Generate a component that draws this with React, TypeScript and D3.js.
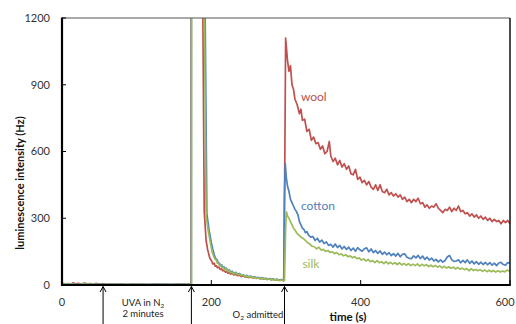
import React from "react";
import * as d3 from "d3";

const W = 516;
const H = 324;

const yTicks = [0, 300, 600, 900, 1200];
const xTicks = [0, 200, 400, 600];

const preWool: [number, number][] = [
  [0, 8], [5, 4], [8, 6], [12, 3], [15, 10], [18, 5], [22, 7], [26, 4], [30, 9], [34, 5], [38, 6], [42, 3], [45, 7], [50, 4], [55, 5], [60, 3], [65, 5], [72, 3], [80, 4], [88, 2], [95, 4], [102, 3], [110, 3], [118, 2], [125, 4], [132, 2], [140, 3], [148, 2], [155, 4], [162, 2], [170, 3], [173, 3],
  [173.1, 3000], [188, 3000], [188.5, 1300], [190.5, 330], [193, 200], [195, 160], [198, 120], [200, 110], [202, 95], [204, 98], [205, 85], [207, 86], [208, 78], [210, 80], [212, 70], [214, 72], [215, 64], [217, 66], [219, 58], [221, 60], [222, 53], [224, 56], [226, 49], [228, 52], [230, 45], [233, 48], [235, 42], [238, 44], [240, 38], [243, 41], [245, 36], [248, 38], [250, 33], [253, 36], [255, 32], [258, 34], [260, 30], [263, 32], [265, 28], [268, 30], [270, 26], [273, 29], [275, 25], [278, 27], [280, 23], [283, 26], [285, 22], [288, 24], [290, 21], [293, 23], [297, 20],
];
const postWool: [number, number][] = [
  [298.5, 600], [299.5, 1110], [302, 1010], [304, 960], [306, 985], [308, 900], [310, 880], [312, 835], [315, 810], [318, 770], [320, 790], [322, 740], [325, 745], [328, 690], [331, 700], [334, 650], [337, 665], [340, 635], [343, 640], [346, 610], [349, 625], [352, 590], [355, 600], [358, 645], [360, 580], [363, 555], [366, 570], [369, 540], [372, 560], [375, 530], [378, 545], [381, 520], [384, 535], [387, 500], [390, 495], [393, 520], [396, 475], [399, 485], [402, 460], [405, 470], [408, 450], [411, 465], [414, 440], [417, 430], [420, 450], [423, 425], [426, 450], [429, 420], [432, 415], [435, 430], [438, 405], [441, 415], [444, 400], [447, 410], [450, 395], [453, 405], [456, 385], [459, 395], [462, 375], [465, 385], [468, 370], [471, 385], [474, 375], [477, 390], [480, 365], [483, 370], [486, 350], [489, 360], [492, 345], [495, 355], [498, 350], [501, 365], [504, 345], [507, 335], [510, 325], [513, 340], [516, 335], [519, 350], [522, 330], [525, 345], [528, 335], [531, 355], [534, 330], [537, 335], [540, 320], [543, 325], [546, 310], [549, 320], [552, 305], [555, 315], [558, 300], [561, 310], [564, 295], [567, 305], [570, 290], [573, 300], [576, 285], [579, 295], [582, 285], [585, 290], [588, 275], [591, 290], [594, 280], [597, 290], [600, 275],
];

const preCotton: [number, number][] = [
  [0, 4], [10, 5], [20, 3], [30, 5], [40, 4], [55, 3], [70, 4], [85, 3], [100, 4], [115, 3], [130, 4], [145, 3], [160, 4], [173.2, 3],
  [173.3, 3000], [191, 3000], [191.5, 1300], [194, 320], [197, 245], [200, 190], [202, 160], [204, 135], [206, 118], [208, 112], [209, 100], [211, 98], [212, 88], [214, 90], [215, 80], [217, 82], [218, 72], [220, 76], [222, 64], [224, 68], [226, 58], [228, 62], [230, 53], [233, 57], [235, 48], [238, 52], [240, 44], [243, 46], [245, 40], [248, 43], [250, 37], [253, 40], [255, 35], [258, 37], [260, 32], [263, 34], [265, 30], [268, 33], [270, 29], [273, 30], [275, 27], [278, 29], [280, 25], [283, 27], [285, 24], [288, 26], [290, 22], [293, 24], [297, 21],
];
const postCotton: [number, number][] = [
  [298, 400], [299, 547], [300.5, 480], [302, 445], [304, 420], [306, 385], [308, 370], [310, 355], [312, 340], [314, 330], [316, 315], [318, 285], [320, 270], [322, 255], [324, 250], [326, 235], [328, 240], [330, 225], [333, 215], [336, 218], [339, 200], [342, 210], [345, 193], [348, 202], [351, 186], [354, 194], [357, 178], [360, 183], [363, 170], [366, 184], [369, 168], [372, 178], [375, 162], [378, 173], [381, 160], [384, 170], [387, 155], [390, 166], [393, 152], [396, 168], [399, 158], [402, 152], [405, 163], [408, 167], [411, 149], [414, 162], [417, 146], [420, 155], [423, 142], [426, 153], [429, 138], [432, 148], [435, 136], [438, 145], [441, 132], [444, 141], [447, 130], [450, 142], [453, 127], [456, 138], [459, 140], [462, 125], [465, 120], [468, 118], [471, 131], [474, 122], [477, 133], [480, 119], [483, 130], [486, 115], [489, 125], [492, 112], [495, 121], [498, 108], [501, 115], [504, 104], [507, 113], [510, 103], [513, 110], [516, 126], [519, 133], [522, 113], [525, 106], [528, 108], [531, 113], [534, 100], [537, 111], [540, 101], [543, 113], [546, 97], [549, 108], [552, 95], [555, 105], [558, 93], [561, 103], [564, 92], [567, 102], [570, 91], [573, 101], [576, 89], [579, 98], [582, 87], [585, 99], [588, 102], [591, 92], [594, 89], [597, 101], [600, 97],
];

const preSilk: [number, number][] = [
  [0, 3], [10, 4], [20, 2], [30, 4], [40, 3], [55, 2], [70, 3], [85, 2], [100, 3], [115, 2], [130, 3], [145, 2], [160, 3], [173.4, 2],
  [173.5, 3000], [190, 3000], [190.5, 1300], [193, 310], [196, 240], [199, 185], [201, 150], [203, 130], [205, 116], [207, 110], [208, 98], [210, 96], [211, 86], [213, 88], [214, 78], [216, 80], [218, 68], [220, 72], [222, 60], [224, 64], [226, 55], [228, 58], [230, 50], [233, 54], [235, 46], [238, 49], [240, 42], [243, 45], [245, 38], [248, 41], [250, 35], [253, 38], [255, 33], [258, 35], [260, 30], [263, 32], [265, 28], [268, 31], [270, 27], [273, 29], [275, 25], [278, 27], [280, 24], [283, 25], [285, 22], [288, 24], [290, 21], [293, 22], [298, 20],
];
const postSilk: [number, number][] = [
  [299.5, 250], [300.5, 329], [302, 310], [304, 300], [306, 285], [308, 270], [310, 255], [312, 248], [314, 235], [316, 228], [318, 222], [320, 215], [323, 210], [326, 200], [329, 190], [332, 184], [335, 174], [338, 172], [341, 162], [344, 170], [347, 157], [350, 160], [353, 151], [356, 155], [359, 147], [362, 149], [365, 141], [368, 146], [371, 136], [374, 140], [377, 131], [380, 136], [383, 127], [386, 131], [389, 122], [392, 128], [395, 118], [398, 122], [401, 112], [404, 117], [407, 108], [410, 115], [413, 105], [416, 110], [419, 101], [422, 110], [425, 100], [428, 105], [431, 96], [434, 105], [437, 95], [440, 102], [443, 94], [446, 100], [449, 92], [452, 100], [455, 90], [458, 97], [461, 89], [464, 96], [467, 87], [470, 94], [473, 87], [476, 95], [479, 85], [482, 93], [485, 86], [488, 92], [491, 83], [494, 89], [497, 82], [500, 88], [503, 80], [506, 86], [509, 77], [512, 84], [515, 76], [518, 82], [521, 75], [524, 80], [527, 72], [530, 79], [533, 71], [536, 76], [539, 69], [542, 74], [545, 64], [548, 73], [551, 65], [554, 70], [557, 64], [560, 69], [563, 61], [566, 68], [569, 60], [572, 66], [575, 60], [578, 65], [581, 58], [584, 64], [587, 58], [590, 63], [593, 59], [596, 67], [599, 63], [600, 67],
];

const seriesNames = ["wool", "cotton", "silk"];
const seriesColors = ["#C0504D", "#4F81BD", "#9BBB59"];
const seriesData = [
  [...preWool, ...postWool],
  [...preCotton, ...postCotton],
  [...preSilk, ...postSilk],
];
const labelPos: [number, number][] = [
  [320, 845],
  [320, 356],
  [322, 94],
];

const arrowTimes = [55, 173.3, 298];

export default function App() {
  const x = d3.scaleLinear().domain([0, 600]).range([62, 510]);
  const y = d3.scaleLinear().domain([0, 1200]).range([285, 18]);
  const line = d3
    .line<[number, number]>()
    .x((d) => x(d[0]))
    .y((d) => y(d[1]));

  const font = "Lato, 'Open Sans', sans-serif";
  const x0 = x(0), x1 = x(600), y0 = y(0), y1 = y(1200);

  return (
    <svg
      width={W}
      height={H}
      style={{ position: "absolute", left: 0, top: 0, background: "#fff" }}
      fontFamily={font}
    >
      <defs>
        <clipPath id="plot">
          <rect x={x0} y={y1} width={x1 - x0} height={y0 - y1} />
        </clipPath>
      </defs>
      <rect width={W} height={H} fill="#fff" />
      <g clipPath="url(#plot)">
        {seriesData.map((d, i) => (
          <path
            key={i}
            d={line(d) || ""}
            fill="none"
            stroke={seriesColors[i]}
            strokeWidth={1.7}
            strokeLinejoin="round"
          />
        ))}
      </g>
      {/* plot border */}
      <line x1={x0} x2={x1} y1={y1} y2={y1} stroke="#555" strokeWidth={1} />
      <line x1={x1} x2={x1} y1={y1} y2={y0} stroke="#111" strokeWidth={1.5} />
      {/* axes */}
      <line x1={x0} x2={x0} y1={y1 - 0.5} y2={y0 + 1} stroke="#000" strokeWidth={2.2} />
      <line x1={x0 - 1} x2={x1 + 0.75} y1={y0} y2={y0} stroke="#000" strokeWidth={2.2} />
      {yTicks.map((t) => (
        <g key={"y" + t}>
          <line x1={x0} x2={x0 + 4} y1={y(t)} y2={y(t)} stroke="#000" strokeWidth={1} />
          <text x={50} y={y(t)} dy="0.35em" textAnchor="end" fontSize={11} fill="#333">
            {t}
          </text>
        </g>
      ))}
      {xTicks.map((t) => (
        <g key={"x" + t}>
          <line x1={x(t)} x2={x(t)} y1={y0} y2={y0 - 5} stroke="#000" strokeWidth={1} />
          <text x={Math.min(x(t), 505)} y={306} textAnchor="middle" fontSize={11} fill="#333">
            {t}
          </text>
        </g>
      ))}
      <text x={348} y={320.5} textAnchor="middle" fontSize={11.5} fontWeight="bold" fill="#111">
        time (s)
      </text>
      <text
        transform={`translate(24,${183})rotate(-90)`}
        textAnchor="middle"
        fontSize={11}
        fontWeight="bold"
        fill="#111"
      >
        luminescence intensity (Hz)
      </text>
      {seriesNames.map((n, i) => (
        <text
          key={n}
          x={x(labelPos[i][0])}
          y={y(labelPos[i][1])}
          dy="0.35em"
          fontSize={12}
          fill={seriesColors[i]}
        >
          {n}
        </text>
      ))}
      {arrowTimes.map((t) => (
        <g key={"a" + t} stroke="#000" strokeWidth={1} fill="none">
          <line x1={x(t)} x2={x(t)} y1={H} y2={y0 + 1.5} />
          <polyline points={`${x(t) - 3},${y0 + 7} ${x(t)},${y0 + 1.5} ${x(t) + 3},${y0 + 7}`} />
        </g>
      ))}
      <text x={143} y={302.5} dy="0.35em" textAnchor="middle" fontSize={9.5} fill="#222">
        UVA in N
        <tspan fontSize={6.5} dy="2">2</tspan>
      </text>
      <text x={143} y={314} dy="0.35em" textAnchor="middle" fontSize={9.5} fill="#222">
        2 minutes
      </text>
      <text x={258} y={314.5} dy="0.35em" textAnchor="middle" fontSize={9.5} fill="#222">
        O<tspan fontSize={6.5} dy="2">2</tspan>
        <tspan dy="-2"> admitted</tspan>
      </text>
    </svg>
  );
}
